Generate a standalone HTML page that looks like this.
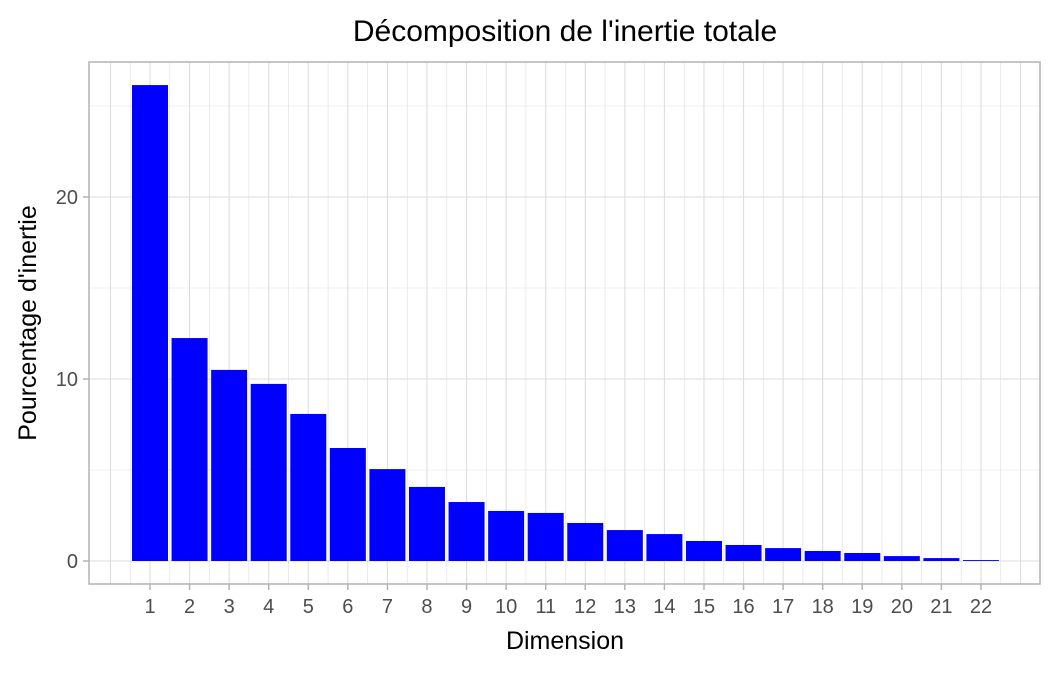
<!DOCTYPE html>
<html><head><meta charset="utf-8"><style>
body{margin:0;background:#fff;font-family:"Liberation Sans",sans-serif;}
</style></head><body>
<svg id="c" width="1056" height="672" xmlns="http://www.w3.org/2000/svg">
<text x="565" y="41" font-size="30" text-anchor="middle" fill="#000">Décomposition de l'inertie totale</text>
<text x="565" y="649" font-size="25" text-anchor="middle" fill="#000">Dimension</text>
<text transform="translate(36,323) rotate(-90)" font-size="25" text-anchor="middle" fill="#000">Pourcentage d'inertie</text>
<g id="grid"></g><g id="bars"></g><g id="axes"></g>
</svg>
<script>
const categories=["1","2","3","4","5","6","7","8","9","10","11","12","13","14","15","16","17","18","19","20","21","22"];
const values=[26.15,12.25,10.5,9.73,8.08,6.21,5.05,4.07,3.24,2.75,2.64,2.09,1.70,1.48,1.10,0.88,0.71,0.55,0.44,0.27,0.16,0.05];
const yTicks=[0,10,20];
const yMinor=[5,15,25];
const NS="http://www.w3.org/2000/svg";
const L=89,R=1040,T=62,B=584;
const xs=i=>150+(i-1)*39.57;
const ys=v=>561-v*18.2;
function mk(p,tag,a){const e=document.createElementNS(NS,tag);for(const k in a)e.setAttribute(k,a[k]);p.appendChild(e);return e;}
const g=document.getElementById('grid'),b=document.getElementById('bars'),ax=document.getElementById('axes');
for(let v=0;v<=categories.length+1;v+=0.5){const x=xs(v);if(x<=L||x>=R)continue;
 const l=mk(g,'line',{x1:x,x2:x,y1:T,y2:B,stroke:'#dedede','stroke-width':v%1?0.6:1.1});
 
 }
yMinor.forEach(v=>{const l=mk(g,'line',{x1:L,x2:R,y1:ys(v),y2:ys(v),stroke:'#e6e6e6','stroke-width':0.6});
 
 });
yTicks.forEach(v=>{const l=mk(g,'line',{x1:L,x2:R,y1:ys(v),y2:ys(v),stroke:'#dedede','stroke-width':1.1});
 
 
 const t=mk(ax,'text',{x:78,y:ys(v)+7,'font-size':20,'text-anchor':'end',fill:'#4d4d4d'});t.textContent=v;
 
 
 const tk=mk(ax,'line',{x1:83,x2:L,y1:ys(v),y2:ys(v),stroke:'#b3b3b3','stroke-width':1.5});
 
 });
values.forEach((v,i)=>{const x=xs(i+1);
 const r=mk(b,'rect',{x:x-18,y:ys(v),width:36,height:ys(0)-ys(v),fill:'#0000ff'});
 
 
 const t=mk(ax,'text',{x:x,y:613,'font-size':20,'text-anchor':'middle',fill:'#4d4d4d'});t.textContent=categories[i];
 
 
 const tk=mk(ax,'line',{x1:x,x2:x,y1:B,y2:B+6,stroke:'#b3b3b3','stroke-width':1.5});
 
 });
const p=mk(ax,'rect',{x:L,y:T,width:R-L,height:B-T,fill:'none',stroke:'#b3b3b3','stroke-width':1.5});


</script>
</body></html>
